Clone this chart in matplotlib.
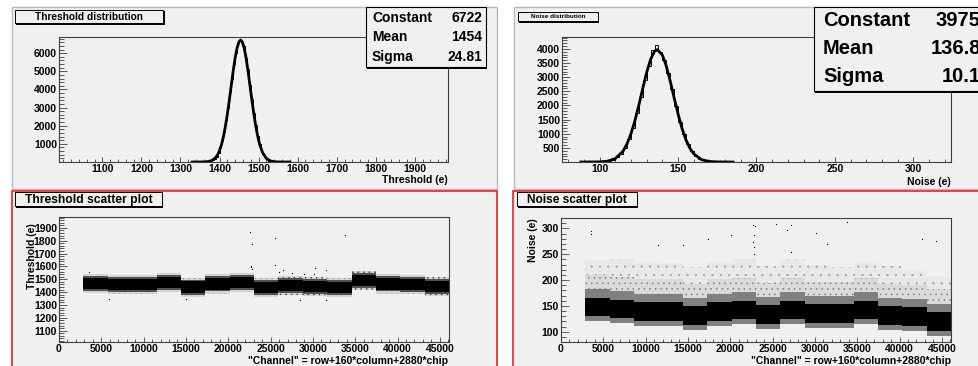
import numpy as np
import matplotlib
matplotlib.use("Agg")
import matplotlib.pyplot as plt
from matplotlib.patches import Rectangle
from matplotlib.ticker import MultipleLocator

plt.rcParams['font.family'] = ['Liberation Sans', 'DejaVu Sans']
plt.rcParams['font.weight'] = 'bold'
plt.rcParams['hatch.linewidth'] = 0.3

# ---- threshold distribution (5 e bins starting at 1335) ----
thr_bin_lo = 1335
thr_bin_w = 5
thr_counts = [1, 1, 2, 3, 5, 10, 18, 32,
              60, 110, 190, 300, 520, 760, 1180, 1640, 2300, 2980, 3850, 4580,
              5420, 6000, 6540, 6650, 6600, 6380, 5750, 5120, 4250, 3500, 2680,
              2040, 1420, 1010, 640, 430, 250, 150, 80, 45,
              25, 14, 8, 5, 3, 2, 1, 1, 0]
thr_fit_x = [1330, 1340, 1350, 1360, 1370, 1380, 1390, 1395, 1400, 1405, 1410, 1415,
             1420, 1425, 1430, 1435, 1440, 1445, 1450, 1454, 1458, 1463, 1468, 1473,
             1478, 1483, 1488, 1493, 1498, 1503, 1510, 1520, 1530, 1540, 1550, 1560, 1580]
thr_fit_y = [0, 0, 1, 5, 22, 79, 241, 397, 629, 956, 1395, 1954,
             2628, 3395, 4210, 5014, 5732, 6294, 6635, 6722, 6635, 6294, 5732, 5014,
             4210, 3395, 2628, 1954, 1395, 956, 526, 195, 62, 17, 4, 1, 0]
thr_stats = [("Constant", "6722"), ("Mean", "1454"), ("Sigma", "24.81")]

# ---- noise distribution (2.5 e bins starting at 87.5) ----
noise_bin_lo = 87.5
noise_bin_w = 2.5
noise_counts = [1, 1, 2, 2, 3, 5, 10,
                38, 88, 160, 300, 500, 815, 1210, 1740, 2290, 2910, 3400, 3960, 4150,
                3900, 3620, 3130, 2580, 1990, 1420, 980, 630, 380, 215, 120, 62, 35,
                22, 16, 12, 10, 9, 8, 7,
                6, 6, 5, 5, 5, 4, 4, 4, 4, 3, 3, 3, 3, 3, 2, 2, 2, 2, 2, 2]
noise_fit_x = [88, 95, 100, 105, 110, 115, 117.5, 120, 122.5, 125, 127.5, 130, 132.5,
               135, 136.8, 140, 142.5, 145, 147.5, 150, 152.5, 155, 157.5, 160, 165,
               170, 175, 180, 185]
noise_fit_y = [0, 1, 5, 28, 119, 389, 645, 1000, 1462, 2012, 2604, 3171, 3631,
               3913, 3975, 3781, 3391, 2862, 2270, 1696, 1191, 788, 490, 286, 81,
               18, 3, 1, 0]
noise_stats = [("Constant", "3975"), ("Mean", "136.8"), ("Sigma", "10.1")]

# ---- scatter plots, summarised per chip (2880 channels per chip, chips 1..15) ----
chip_size = 2880
chip_first = 1
thr_center = [1469, 1458, 1458, 1474, 1438, 1464, 1474, 1435, 1453, 1443, 1435, 1490, 1464, 1458, 1443]
thr_core = 45
thr_mid = 58
thr_halo = 75
thr_out_x = [22550, 22750, 25500, 33850, 22630, 22830, 25500, 26450, 27550, 30300,
             31600, 30100, 3540, 28450, 31600, 5900, 14950, 22700, 26000, 29000]
thr_out_y = [1871, 1774, 1819, 1845, 1604, 1578, 1610, 1573, 1552, 1591,
             1573, 1539, 1557, 1336, 1336, 1349, 1349, 1595, 1560, 1545]

noise_center = [148, 144, 139, 139, 131, 139, 142, 133, 142, 135, 135, 142, 131, 129, 120]
noise_core = 18
noise_low = 28
noise_mid = 34
noise_mid2 = 62
noise_sparse_top = [238, 240, 235, 232, 225, 235, 240, 228, 240, 230, 225, 235, 228, 220, 205]
noise_out_x = [3540, 3540, 22630, 22900, 22750, 22630, 22750, 22830, 25380, 27150,
               26760, 27150, 33770, 42700, 44300, 20070, 17320, 11410, 14360, 31480, 30100]
noise_out_y = [295, 290, 306, 304, 287, 274, 264, 251, 309, 306,
               296, 254, 313, 279, 276, 287, 280, 267, 267, 270, 291]

W, H = 979, 366
BG = '#f0f0f0'
fig = plt.figure(figsize=(W / 100, H / 100), dpi=100)
fig.patch.set_facecolor('white')


def frac(x0, y0, x1, y1):
    return [x0 / W, 1 - y1 / H, (x1 - x0) / W, (y1 - y0) / H]


def rect(x0, y0, x1, y1, **kw):
    fig.add_artist(Rectangle((x0 / W, 1 - y1 / H), (x1 - x0) / W, (y1 - y0) / H,
                             transform=fig.transFigure, **kw))


def txt(x, y, s, **kw):
    fig.text(x / W, 1 - y / H, s, **kw)


def title_box(x0, y0, x1, y1, s, size):
    rect(x0 + 1.5, y0 + 1.5, x1 + 1.5, y1 + 1.5, facecolor='black', lw=0, zorder=5)
    rect(x0, y0, x1, y1, facecolor=BG, edgecolor='black', lw=0.7, zorder=6)
    txt((x0 + x1) / 2, (y0 + y1) / 2 + 0.5, s, ha='center', va='center', size=size, zorder=7)


def stats_box(x0, y0, x1, y1, rows, size, xl, xr, ys):
    rect(x0 + 1.5, y0 + 1.5, x1 + 1.5, y1 + 1.5, facecolor='black', lw=0, zorder=5)
    rect(x0, y0, x1, y1, facecolor=BG, edgecolor='black', lw=0.8, zorder=6)
    for (name, val), y in zip(rows, ys):
        txt(xl, y, name, ha='left', va='center', size=size, zorder=7)
        txt(xr, y, val, ha='right', va='center', size=size, zorder=7)


def setup(ax, xlim, ylim, xmin, ymin, xticks, yticks):
    ax.set_facecolor(BG)
    ax.set_xlim(*xlim)
    ax.set_ylim(*ylim)
    ax.set_xticks(xticks)
    ax.set_yticks(yticks)
    ax.xaxis.set_minor_locator(MultipleLocator(xmin))
    ax.yaxis.set_minor_locator(MultipleLocator(ymin))
    ax.tick_params(axis='both', which='both', direction='in', top=False, right=False,
                   labelsize=7.5, color='#404040', width=0.6)
    ax.tick_params(axis='y', which='major', length=6, pad=1.5)
    ax.tick_params(axis='y', which='minor', length=3.5)
    ax.tick_params(axis='x', which='major', length=3.5, pad=1.5)
    ax.tick_params(axis='x', which='minor', length=2)
    for sp in ax.spines.values():
        sp.set_color('#404040')
        sp.set_linewidth(0.8)


def band(ax, xs, lo, hi, color, hatch=None, dots='#303030'):
    if hatch:
        ax.fill_between(xs, lo, hi, facecolor=color, edgecolor=dots, hatch=hatch, lw=0)
    else:
        ax.fill_between(xs, lo, hi, color=color, lw=0)


# pads
rect(12, 7, 497, 189, facecolor=BG, edgecolor='#b8b8b8', lw=1, zorder=-5)
rect(514, 7, 990, 189, facecolor=BG, edgecolor='#b8b8b8', lw=1, zorder=-5)
rect(12, 191, 497, 370, facecolor=BG, edgecolor='#ee2020', lw=1.2, zorder=-5)
rect(513, 191, 990, 370, facecolor=BG, edgecolor='#ee2020', lw=1.2, zorder=-5)

# threshold distribution
ax1 = fig.add_axes(frac(59, 37, 448, 162))
thr_edges = thr_bin_lo + thr_bin_w * np.arange(len(thr_counts) + 1)
ax1.stairs(thr_counts, thr_edges, color='black', lw=0.7)
ax1.plot(thr_fit_x, thr_fit_y, color='black', lw=2)
setup(ax1, (989, 1985), (0, 6890), 20, 200,
      list(range(1100, 2000, 100)), list(range(1000, 7000, 1000)))
txt(448, 180, "Threshold (e)", ha='right', va='center', size=7.5)
title_box(15, 10, 163, 23, "Threshold distribution", 7.3)
stats_box(366, 7, 486, 67, thr_stats, 10, 372, 482, [18, 37, 57])

# noise distribution
ax2 = fig.add_axes(frac(562, 37, 951, 162))
noise_edges = noise_bin_lo + noise_bin_w * np.arange(len(noise_counts) + 1)
ax2.stairs(noise_counts, noise_edges, color='black', lw=0.7)
ax2.plot(noise_fit_x, noise_fit_y, color='black', lw=2)
setup(ax2, (76, 324), (0, 4420), 10, 100,
      [100, 150, 200, 250, 300], list(range(500, 4500, 500)))
txt(951, 182.5, "Noise (e)", ha='right', va='center', size=7.5)
title_box(518, 12, 598, 21, "Noise distribution", 4.6)
stats_box(814, 7, 995, 91, noise_stats, 14.5, 823, 981, [20, 48, 77])

# threshold scatter
ax3 = fig.add_axes(frac(59, 217, 449, 342))
for i, c in enumerate(thr_center):
    x0 = (chip_first + i) * chip_size
    xs = [x0, x0 + chip_size]
    band(ax3, xs, c - thr_halo, c + thr_halo, '#d4d4d4', '...')
    band(ax3, xs, c - thr_mid, c + thr_mid, '#505050')
    band(ax3, xs, c - thr_core, c + thr_core, 'black')
ax3.scatter(thr_out_x, thr_out_y, s=0.8, color='black', lw=0)
setup(ax3, (0, 46080), (1012, 1985), 1000, 20,
      list(range(0, 50000, 5000)), list(range(1100, 2000, 100)))
txt(448, 361, '"Channel" = row+160*column+2880*chip', ha='right', va='center', size=7.5)
txt(32, 223, "Threshold (e)", ha='center', va='top', rotation=90, size=7.5)
title_box(15, 192, 162, 206, "Threshold scatter plot", 8.7)

# noise scatter
ax4 = fig.add_axes(frac(561, 218, 951, 342))
for i, c in enumerate(noise_center):
    x0 = (chip_first + i) * chip_size
    xs = [x0, x0 + chip_size]
    band(ax4, xs, c + noise_mid2, noise_sparse_top[i], '#e9e9e9', '..', '#9a9a9a')
    band(ax4, xs, c + noise_mid, c + noise_mid2, '#dadada', '...', '#707070')
    band(ax4, xs, c - noise_low, c + noise_mid, '#808080')
    band(ax4, xs, c - noise_core, c + noise_core, 'black')
ax4.scatter(noise_out_x, noise_out_y, s=0.8, color='black', lw=0)
setup(ax4, (0, 46080), (80, 320), 1000, 10,
      list(range(0, 50000, 5000)), [100, 150, 200, 250, 300])
txt(951, 361, '"Channel" = row+160*column+2880*chip', ha='right', va='center', size=7.5)
txt(533, 218, "Noise (e)", ha='center', va='top', rotation=90, size=7.5)
title_box(517, 192, 637, 206, "Noise scatter plot", 8.6)

fig.savefig("out.png", dpi=100)
